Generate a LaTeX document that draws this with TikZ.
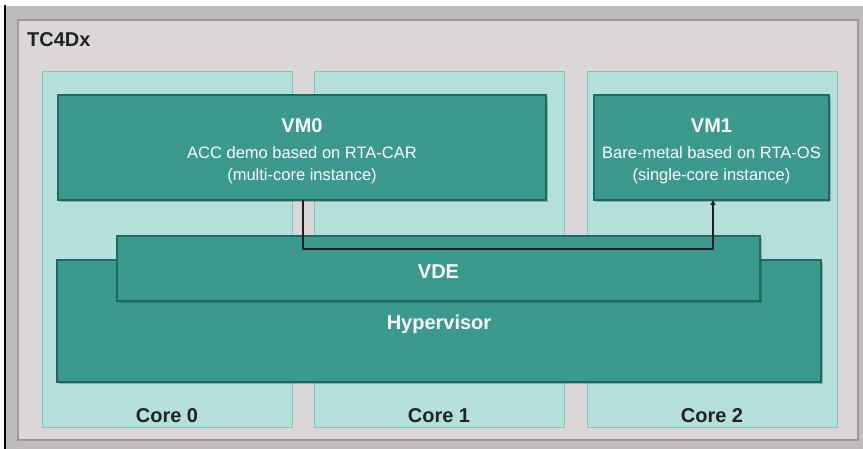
\documentclass[tikz,border=0pt]{standalone}
\usepackage{fontspec}
\setmainfont{Liberation Sans}
\usetikzlibrary{shadows,arrows.meta}
\definecolor{tealfill}{HTML}{3B9A8D}
\definecolor{tealdark}{HTML}{1C6B61}
\definecolor{corefill}{HTML}{B5DFDA}
\definecolor{coreline}{HTML}{7EC5BC}
\definecolor{framefill}{HTML}{DBD6D8}
\definecolor{frameline}{HTML}{9C9799}
\definecolor{outergrey}{HTML}{C0BBBD}
\definecolor{labelgrey}{HTML}{222222}
\begin{document}
\begin{tikzpicture}[x=1pt,y=-1pt,
  box/.style={rectangle, inner sep=0pt, outer sep=0pt},
  framebox/.style={box, fill=framefill, draw=frameline, line width=1.2pt},
  corebox/.style={box, fill=corefill, draw=coreline, line width=1pt, minimum width=250pt, minimum height=355pt},
  vmbox/.style={box, fill=tealfill, draw=tealdark, line width=1.3pt,
     drop shadow={shadow xshift=1.5pt, shadow yshift=-2pt, opacity=0.22, fill=black}},
  titletext/.style={font=\fontsize{20}{24}\selectfont\bfseries, text=white, inner sep=0pt, anchor=base},
  desctext/.style={font=\fontsize{16.5}{20}\selectfont, text=white, inner sep=0pt, anchor=base},
  coretext/.style={font=\fontsize{20}{24}\selectfont\bfseries, text=labelgrey, inner sep=0pt, anchor=base},
  link/.style={line width=1.2pt, draw=black!88, -{Triangle[length=5pt,width=5pt]}},
]
\useasboundingbox (0,0) rectangle (863,449);
\fill[white] (0,0) rectangle (863,449);
\fill[outergrey] (6,6) rectangle (863,449);
\fill[black] (3.5,5) rectangle (6,449);

\node[framebox, minimum width=840pt, minimum height=420pt] (frame) at (438,230) {};
\node[font=\fontsize{20}{24}\selectfont\bfseries, text=labelgrey, inner sep=0pt, anchor=base west] (chip) at (27,47) {TC4Dx};

\node[corebox] (core0) at (167,249.5) {};
\node[corebox] (core1) at (439,249.5) {};
\node[corebox] (core2) at (712,249.5) {};
\node[coretext] (core0t) at (167,422) {Core 0};
\node[coretext] (core1t) at (439,422) {Core 1};
\node[coretext] (core2t) at (712,422) {Core 2};

\node[vmbox, minimum width=488pt, minimum height=105pt] (vm0) at (302,147.5) {};
\node[vmbox, minimum width=235pt, minimum height=105pt] (vm1) at (711.5,147.5) {};
\node[titletext] (vm0t) at (302,133) {VM0};
\node[desctext] (vm0a) at (302,159) {ACC demo based on RTA-CAR};
\node[desctext] (vm0b) at (302,180.5) {(multi-core instance)};
\node[titletext] (vm1t) at (711.5,133) {VM1};
\node[desctext] (vm1a) at (711.5,159) {Bare-metal based on RTA-OS};
\node[desctext] (vm1b) at (711.5,181) {(single-core instance)};

\node[vmbox, minimum width=764pt, minimum height=122pt] (hyp) at (439,321) {};
\node[vmbox, minimum width=643pt, minimum height=65pt] (vde) at (438.5,268.5) {};
\node[titletext] (vdet) at (438.5,278.5) {VDE};
\node[titletext] (hypt) at (439,330) {Hypervisor};

\draw[link] ([xshift=1pt]vm0.south) -- ++(0,49) -| ([xshift=1.5pt]vm1.south);
\end{tikzpicture}
\end{document}
